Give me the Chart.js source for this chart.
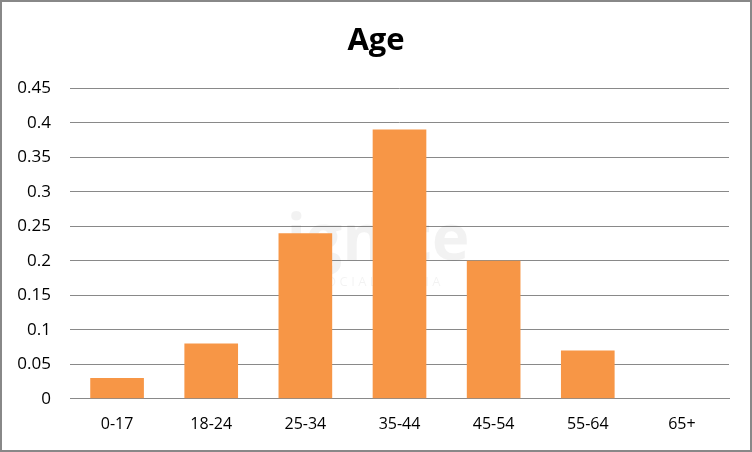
<!DOCTYPE html>
<html>
<head>
<meta charset="utf-8">
<script src="https://cdn.jsdelivr.net/npm/chart.js"></script>
<style>
  body { margin: 0; background: #fff; }
  #wrap { width: 748px; height: 448px; border: 2px solid #888; background: #fff; }
</style>
</head>
<body>
<div id="wrap"><canvas id="myChart" width="748" height="448"></canvas></div>
<script>
// data
const ageGroups = ['0-17', '18-24', '25-34', '35-44', '45-54', '55-64', '65+'];
const shares = [0.03, 0.08, 0.24, 0.39, 0.2, 0.07, 0];
const yMax = 0.45;
const yStep = 0.05;

const fontName = "'Open Sans', 'Liberation Sans', sans-serif";

// faint logo behind the bars
const watermark = {
  id: 'watermark',
  beforeDatasetsDraw(chart) {
    const ctx = chart.ctx;
    ctx.save();
    ctx.fillStyle = 'rgba(0,0,0,0.05)';
    ctx.textAlign = 'center';
    ctx.font = "bold 64px " + fontName;
    ctx.fillText('ignite', 376, 258);
    ctx.font = "13px " + fontName;
    ctx.fillText('S O C I A L   M E D I A', 376, 284);
    ctx.restore();
  }
};

const graphArea = document.getElementById('myChart').getContext('2d');
new Chart(graphArea, {
  type: 'bar',
  data: {
    labels: ageGroups,
    datasets: [{
      data: shares,
      backgroundColor: '#F79646',
      barPercentage: 0.57,
      categoryPercentage: 1
    }]
  },
  options: {
    responsive: false,
    animation: false,
    layout: { padding: 0 },
    plugins: {
      legend: { display: false },
      tooltip: { enabled: false },
      title: {
        display: true,
        text: 'Age',
        color: '#000',
        font: { family: fontName, size: 31, weight: 'bold' },
        padding: { top: 21, bottom: 28 }
      }
    },
    scales: {
      x: {
        grid: { display: false, drawTicks: false },
        border: { display: true, color: '#898989', width: 1 },
        ticks: { color: '#000', font: { family: fontName, size: 16 }, padding: 16 }
      },
      y: {
        min: 0,
        max: yMax,
        afterFit: (scale) => { scale.width = 68; },
        grid: { color: '#898989', drawTicks: false },
        border: { display: false },
        ticks: {
          stepSize: yStep,
          color: '#000',
          padding: 19,
          font: { family: fontName, size: 17 },
          callback: (v) => parseFloat(v.toFixed(2)).toString()
        }
      },
      // empty right-hand axis, only keeps the right margin so the title stays centred
      yRight: {
        position: 'right',
        afterFit: (scale) => { scale.width = 21; },
        grid: { display: false, drawTicks: false },
        border: { display: false },
        ticks: { display: false }
      }
    }
  },
  plugins: [watermark]
});
</script>
</body>
</html>
